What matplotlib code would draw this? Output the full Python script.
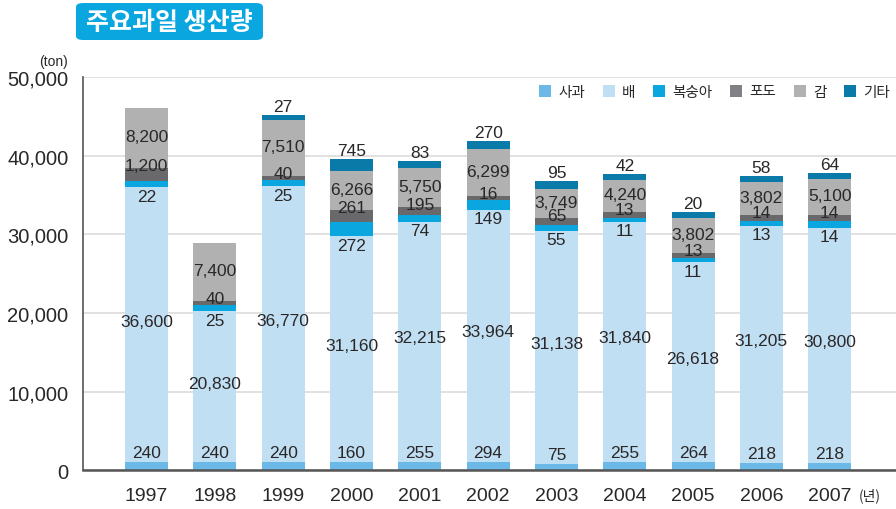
import matplotlib
matplotlib.use("Agg")
import matplotlib.pyplot as plt
from matplotlib.patches import FancyBboxPatch, Patch

plt.rcParams['font.family'] = ['Liberation Sans', 'Noto Sans CJK KR', 'DejaVu Sans']

years = ["1997", "1998", "1999", "2000", "2001", "2002", "2003", "2004", "2005", "2006", "2007"]
series = ["사과", "배", "복숭아", "포도", "감", "기타"]
colors = ["#6cb8e6", "#c1dff3", "#0aa6e0", "#69696b", "#b1b1b1", "#0a7aa8"]
legend_colors = ["#6cb8e6", "#c1dff3", "#0aa6e0", "#818185", "#b1b1b1", "#0a7aa8"]

# printed values (ton)
apple = ["240", "240", "240", "160", "255", "294", "75", "255", "264", "218", "218"]
pear = ["36,600", "20,830", "36,770", "31,160", "32,215", "33,964", "31,138", "31,840", "26,618", "31,205", "30,800"]
peach = ["22", "25", "25", "272", "74", "149", "55", "11", "11", "13", "14"]
grape = ["1,200", "40", "40", "261", "195", "16", "65", "13", "13", "14", "14"]
persimmon = ["8,200", "7,400", "7,510", "6,266", "5,750", "6,299", "3,749", "4,240", "3,802", "3,802", "5,100"]
other = ["", "", "27", "745", "83", "270", "95", "42", "20", "58", "64"]

# segment heights as drawn in the source graphic (not to scale for small items)
apple_h = [1020, 1020, 1020, 1070, 1140, 1140, 850, 1140, 1070, 980, 980]
pear_h = [34940, 19190, 35070, 28670, 30460, 32020, 29610, 30460, 25360, 30110, 29860]
peach_h = [760, 760, 850, 1830, 890, 1230, 760, 510, 510, 640, 890]
grape_h = [1740, 600, 510, 1560, 1020, 550, 890, 760, 720, 760, 760]
persimmon_h = [7620, 7330, 7030, 4960, 4960, 5850, 3690, 4070, 4450, 4190, 4570]
other_h = [0, 0, 720, 1520, 890, 1020, 1020, 760, 760, 760, 760]

heights = [apple_h, pear_h, peach_h, grape_h, persimmon_h, other_h]

fig = plt.figure(figsize=(8.96, 5.1), dpi=100)
ax = fig.add_axes([0.0926, 0.0755, 0.9074, 0.7716])

x = list(range(len(years)))
w = 0.63
bottom = [0] * len(years)
bottoms = []
for h, c in zip(heights, colors):
    ax.bar(x, h, w, bottom=bottom, color=c, zorder=2)
    bottoms.append(bottom)
    bottom = [b + v for b, v in zip(bottom, h)]

tc = "#2a2728"
fs = 12.5
for i in x:
    # 사과: just above the apple segment
    ax.text(i, apple_h[i] + 250, apple[i], ha="center", va="bottom", fontsize=fs, color=tc, zorder=3)
    # 배: middle of the pear segment
    mid = bottoms[1][i] + pear_h[i] / 2 + 500
    ax.text(i, mid, pear[i], ha="center", va="center", fontsize=fs, color=tc, zorder=3)
    # 복숭아: just below top of pear
    ax.text(i, bottoms[2][i] - 150, peach[i], ha="center", va="top", fontsize=fs, color=tc, zorder=3)
    # 포도: around top of grape segment
    ax.text(i, bottoms[4][i] + 250, grape[i], ha="center", va="center", fontsize=fs, color=tc, zorder=3)
    # 감: middle of persimmon segment
    ax.text(i, bottoms[4][i] + persimmon_h[i] / 2 + 150, persimmon[i], ha="center", va="center",
            fontsize=fs, color=tc, zorder=3)
    # 기타: above the bar
    if other[i]:
        ax.text(i, bottom[i] + 150, other[i], ha="center", va="bottom", fontsize=fs, color=tc, zorder=3)

ax.set_ylim(0, 50000)
ax.set_xlim(-0.93, 10.97)
ax.set_yticks(range(0, 50001, 10000))
ax.set_yticklabels(["0", "10,000", "20,000", "30,000", "40,000", "50,000"], fontsize=14.5, color=tc)
ax.set_xticks(x)
ax.set_xticklabels(years, fontsize=14, color=tc)
ax.tick_params(axis="x", length=0, pad=12)
ax.tick_params(axis="y", length=0, pad=10.5)
ax.yaxis.grid(True, color="#dcdcdc", lw=1.2, zorder=0)
ax.set_axisbelow(True)
for s in ["top", "right"]:
    ax.spines[s].set_visible(False)
ax.spines["left"].set_color("#555555")
ax.spines["left"].set_linewidth(1.2)
ax.spines["bottom"].set_color("#555555")
ax.spines["bottom"].set_linewidth(1.8)

fig.text(0.0759, 0.878, "(ton)", ha="right", va="center", fontsize=10, color=tc)
fig.text(0.958, 0.028, "(년)", ha="left", va="center", fontsize=10, color=tc,
         family=["Noto Sans CJK KR", "DejaVu Sans"])

handles = [Patch(facecolor=c, edgecolor="none") for c in legend_colors]
leg = ax.legend(handles, series, ncol=6, loc="center right", bbox_to_anchor=(0.9926, 0.962),
                frameon=False, borderpad=0, borderaxespad=0,
                handlelength=0.82, handleheight=0.82, handletextpad=0.48,
                columnspacing=1.23, prop={"family": ["Noto Sans CJK KR"], "size": 10.5})
for t in leg.get_texts():
    t.set_color(tc)

# title badge
badge = FancyBboxPatch((0.0848, 0.9196), 0.2087, 0.0725, boxstyle="round,pad=0,rounding_size=0.008",
                       transform=fig.transFigure, facecolor="#0aa6df", edgecolor="none")
fig.patches.append(badge)
fig.text(0.189, 0.955, "주요과일 생산량", ha="center", va="center", fontsize=18, color="white",
         fontweight="bold", family=["Noto Sans CJK KR"])

fig.savefig("out.png", dpi=100)
